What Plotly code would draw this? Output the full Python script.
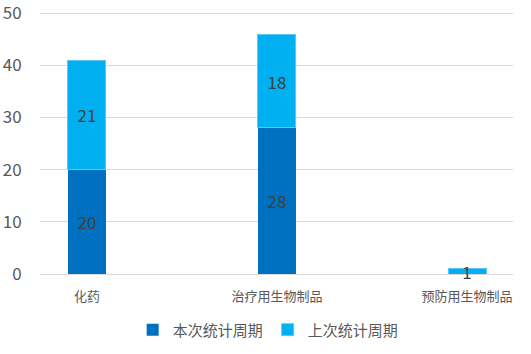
import plotly.graph_objects as go

categories = ["化药", "治疗用生物制品", "预防用生物制品"]
current_period = [20, 28, 0]
previous_period = [21, 18, 1]
series_names = ["本次统计周期", "上次统计周期"]
y_ticks = [0, 10, 20, 30, 40, 50]

font_family = "Noto Sans CJK SC, Open Sans, sans-serif"

def labels(vals):
    return [str(v) if v else "" for v in vals]

fig = go.Figure()
fig.add_trace(go.Bar(
    x=categories, y=current_period, name=series_names[0],
    marker=dict(color="#0070C0", line=dict(width=0)),
    text=labels(current_period), textposition="inside", insidetextanchor="middle",
    textangle=0, constraintext="none",
    textfont=dict(size=17, color="#404040", family=font_family),
    width=0.2, cliponaxis=False,
))
fig.add_trace(go.Bar(
    x=categories, y=previous_period, name=series_names[1],
    marker=dict(color="#00B0F0", line=dict(width=1, color="#5CC8F5")),
    text=labels(previous_period), textposition="inside", insidetextanchor="middle",
    textangle=0, constraintext="none",
    textfont=dict(size=17, color="#404040", family=font_family),
    width=0.2, cliponaxis=False,
))

fig.update_layout(
    barmode="stack",
    width=531, height=354,
    margin=dict(l=40, r=18, t=8, b=80, autoexpand=False),
    paper_bgcolor="white", plot_bgcolor="white",
    font=dict(family=font_family, color="#595959"),
    legend=dict(
        orientation="h", xref="container", yref="container",
        x=0.505, xanchor="center", y=0.068, yanchor="middle",
        font=dict(size=15, color="#595959"), traceorder="normal",
        itemwidth=30,
    ),
    xaxis=dict(
        type="category", range=[-0.247, 2.242],
        showgrid=False, showline=False, ticks="",
        tickfont=dict(size=13, color="#595959"),
        ticklabelstandoff=13, automargin=False,
    ),
    yaxis=dict(
        range=[0, 51], tickmode="array", tickvals=y_ticks,
        ticktext=[str(v) for v in y_ticks],
        ticklabeloverflow="allow",
        ticks="outside", ticklen=14, tickcolor="rgba(0,0,0,0)",
        showgrid=True, gridcolor="#D9D9D9", gridwidth=1,
        zeroline=True, zerolinecolor="#D9D9D9", zerolinewidth=1,
        showline=False,
        tickfont=dict(size=17, color="#595959"),
        automargin=False,
    ),
)

fig.write_html("out.html")
